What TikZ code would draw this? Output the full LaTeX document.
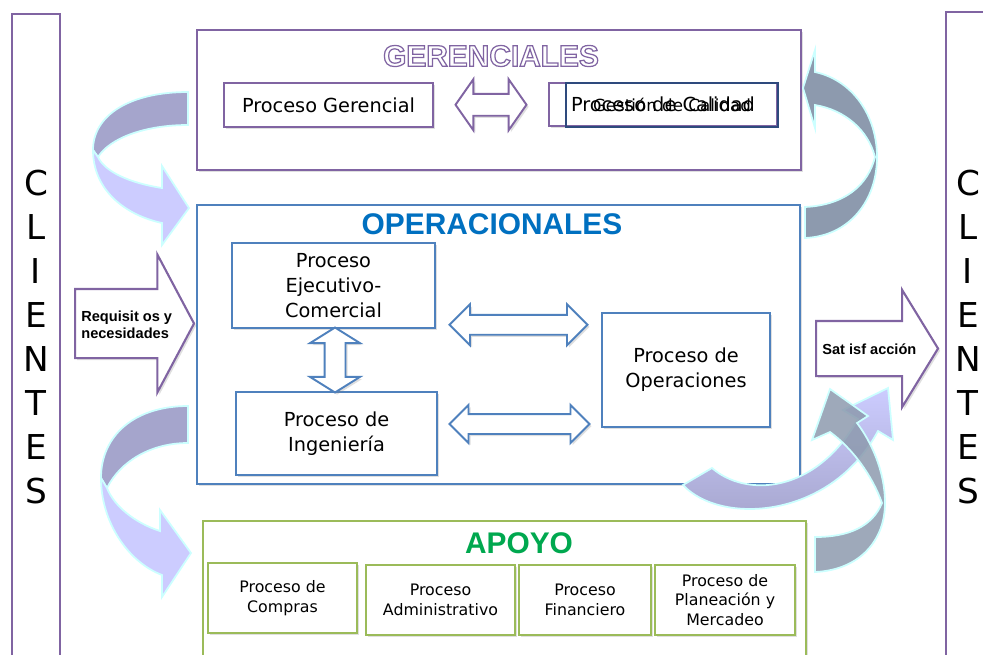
\documentclass[tikz,border=0pt]{standalone}
\usepackage{fontspec}
\setmainfont{DejaVu Sans}
\newfontfamily\arialfont{Liberation Sans}
\usetikzlibrary{calc,shapes.arrows,shadows}
\def\contorno#1{\special{pdf:code q 1 Tr 0.7 w 0.502 0.392 0.635 RG}#1\special{pdf:code Q}}

\definecolor{purp}{HTML}{8064A2}
\definecolor{azulcaja}{HTML}{4F81BD}
\definecolor{azultit}{HTML}{0070C0}
\definecolor{verdecaja}{HTML}{9BBB59}
\definecolor{verdetit}{HTML}{00A84F}
\definecolor{marino}{HTML}{2E4A7D}
\definecolor{lavoscuro}{HTML}{A5A5CC}
\definecolor{lavclaro}{HTML}{CCCCFF}
\definecolor{pizarra}{HTML}{8D9AAE}
\definecolor{brillo}{HTML}{CCFFFF}

\tikzset{
	sombra/.style={drop shadow={opacity=0.25, shadow xshift=1.2pt, shadow yshift=-1.2pt}},
	proceso/.style={draw=#1, line width=1.1pt, fill=white, align=center, inner sep=2pt, font=\fontsize{11}{14.2}\selectfont, sombra},
	apoyoproc/.style={proceso=verdecaja, line width=1.4pt, font=\fontsize{9}{11.2}\selectfont, minimum height=1.4cm},
	grupo/.style={draw=#1, line width=1.2pt, fill=white, sombra},
	titulo/.style={font=\arialfont\bfseries\fontsize{17}{20}\selectfont, inner sep=0pt},
	clientes/.style={draw=purp, line width=1.6pt, fill=white, align=center, inner sep=0pt, font=\fontsize{19.5}{25}\selectfont},
	flechadoble/.style={double arrow, draw=#1, line width=1.1pt, fill=white, inner sep=0pt, sombra},
	flecha/.style={single arrow, draw=purp, line width=1.2pt, fill=white, inner sep=0pt, anchor=tail, sombra},
	rotulo/.style={font=\arialfont\bfseries\fontsize{8.3}{9.8}\selectfont, align=left, inner sep=0pt, anchor=west},
	cinta/.style={draw=brillo, line width=1pt}
}

\begin{document}
\begin{tikzpicture}[x=0.02cm, y=-0.02cm]
		%%%%% START %%%%%
		\useasboundingbox (0,0) rectangle (983,654);
		\clip (0,0) rectangle (983,654);
		
		\node[clientes, minimum width=0.96cm, minimum height=12.92cm] (cliizq) at (36,337) {C\\L\\I\\E\\N\\T\\E\\S};
		\node[clientes, minimum width=0.88cm, minimum height=13cm] (clider) at (968,337) {C\\L\\I\\E\\N\\T\\E\\S};
		
		\node[grupo=purp, minimum width=12.08cm, minimum height=2.8cm] (ger) at (499,100) {};
		\node[titulo, text=purp] (titger) at (491,56) {\contorno{GERENCIALES}};
		\node[proceso=purp, minimum width=4.18cm, minimum height=0.88cm] (proger) at (328.5,105) {Proceso Gerencial};
		\node[proceso=purp, minimum width=4.56cm, minimum height=0.86cm] (procal) at (663,104.5) {Proceso de Calidad};
		\node[draw=marino, line width=0.8pt, minimum width=4.24cm, minimum height=0.88cm, font=\fontsize{9.5}{11}\selectfont] (gescal) at (672,105) {Gestión de Calidad};
		\node[flechadoble=purp, inner ysep=0.2cm, minimum height=1.42cm, double arrow head extend=0.29cm, double arrow tip angle=110] (fger) at ($(proger.east)!0.5!(procal.west)$) {};
		
		\node[grupo=azulcaja, minimum width=12.06cm, minimum height=5.58cm] (oper) at (498.5,344.5) {};
		\node[titulo, text=azultit] (titoper) at (492,224) {OPERACIONALES};
		\node[proceso=azulcaja, minimum width=4.06cm, minimum height=1.7cm] (ejec) at (333.5,285.5) {Proceso\\Ejecutivo-\\Comercial};
		\node[proceso=azulcaja, minimum width=4.02cm, minimum height=1.66cm] (ing) at (336.5,433.5) {Proceso de\\Ingeniería};
		\node[proceso=azulcaja, minimum width=3.36cm, minimum height=2.28cm] (opera) at (686,370) {Proceso de\\Operaciones};
		\node[flechadoble=azulcaja, rotate=90, inner ysep=0.19cm, minimum height=1.3cm, double arrow head extend=0.29cm, double arrow tip angle=116] (fejing) at ($(ejec.south)!0.5!(ing.north)$) {};
		\node[flechadoble=azulcaja, inner ysep=0.18cm, minimum height=2.76cm, double arrow head extend=0.21cm, double arrow tip angle=90] (fejop) at ($(ejec.east)!0.5!(opera.west)+(0,-3)$) {};
		\node[flechadoble=azulcaja, inner ysep=0.18cm, minimum height=2.8cm, double arrow head extend=0.18cm, double arrow tip angle=90] (fingop) at ($(ing.east)!0.5!(ing.east -| opera.west)+(0,-9.5)$) {};
		
		\node[grupo=verdecaja, line width=1.5pt, minimum width=12.06cm, minimum height=3.16cm] (apoyo) at (504.5,600) {};
		\node[titulo, text=verdetit] (titapoyo) at (519,543) {APOYO};
		\node[apoyoproc, minimum width=2.98cm] (comp) at (282.5,598) {Proceso de\\Compras};
		\node[apoyoproc, minimum width=2.98cm] (admin) at (440.5,600) {Proceso\\Administrativo};
		\node[apoyoproc, minimum width=2.64cm] (fin) at (585,600) {Proceso\\Financiero};
		\node[apoyoproc, minimum width=2.8cm] (plan) at (725,600) {Proceso de\\Planeación y\\Mercadeo};
		
		\draw[cinta, fill=lavoscuro] (188,92) .. controls (130,92) and (93,115) .. (93,150) -- (98,157) .. controls (110,138) and (145,125) .. (188,125) -- cycle;
		\draw[cinta, fill=lavclaro] (93,150) .. controls (93,190) and (125,215) .. (162,223) -- (162,245) -- (189,208) -- (162,166) -- (162,188) .. controls (130,183) and (105,172) .. (98,157) -- cycle;
		
		\draw[cinta, fill=lavoscuro] (188,406) .. controls (135,406) and (101,435) .. (101,478) -- (107,488) .. controls (120,462) and (150,443) .. (188,443) -- cycle;
		\draw[cinta, fill=lavclaro] (101,478) .. controls (101,522) and (128,562) .. (162,575) -- (162,597) -- (191,553) -- (160,510) -- (160,531) .. controls (135,523) and (114,506) .. (107,488) -- cycle;
		
		\draw[cinta, fill=pizarra] (805,238) .. controls (850,236) and (877,200) .. (877,157) .. controls (877,115) and (852,80) .. (815,72) -- (815,50) -- (803,88) -- (815,128) -- (815,105) .. controls (845,110) and (868,130) .. (875,157) .. controls (868,185) and (845,205) .. (805,207) -- cycle;
		
		\draw[cinta, top color=lavclaro, bottom color=lavoscuro] (683,485) .. controls (720,525) and (830,520) .. (878,431) -- (893,440) -- (888,388) -- (843,410) -- (858,419) .. controls (815,495) and (745,497) .. (712,468) -- cycle;
		\draw[cinta, fill=pizarra, fill opacity=0.85] (815,572) .. controls (860,570) and (885,540) .. (885,503) .. controls (885,470) and (870,440) .. (857,423) -- (868,416) -- (830,389) -- (812,440) -- (830,432) .. controls (852,448) and (872,475) .. (882,503) .. controls (872,527) and (848,537) .. (815,537) -- cycle;
		
		\node[flecha, inner ysep=0.67cm, minimum height=2.38cm, single arrow head extend=0.69cm, single arrow tip angle=124] (freq) at (74,323.5) {};
		\node[rotulo] (txtreq) at (81,324.5) {Requisit os y\\necesidades};
		\node[flecha, inner ysep=0.53cm, minimum height=2.44cm, single arrow head extend=0.62cm, single arrow tip angle=117] (fsat) at (815,348.5) {};
		\node[rotulo] (txtsat) at (822,349) {Sat isf acción};
		
		%%%%% END %%%%%
\end{tikzpicture}
\end{document}
